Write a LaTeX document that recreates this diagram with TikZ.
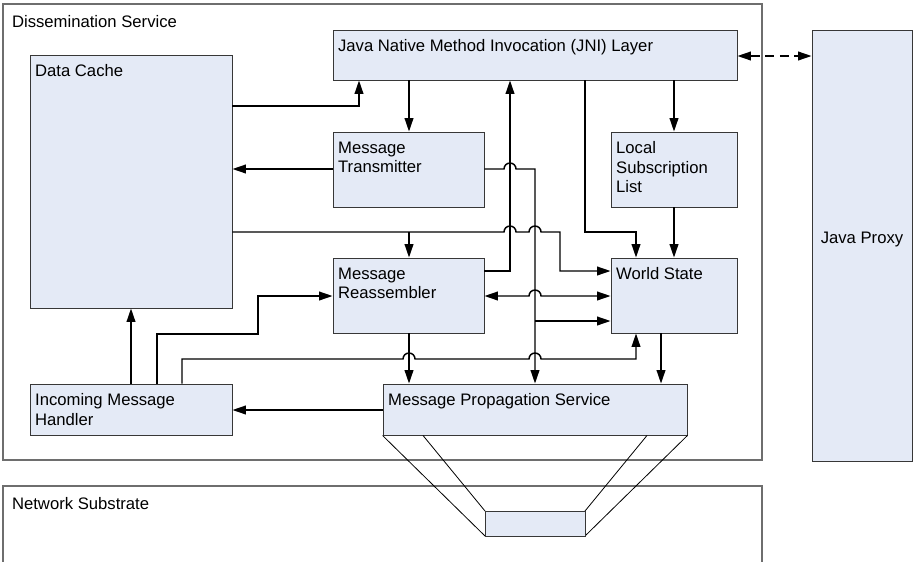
\documentclass[tikz,border=0pt]{standalone}
\usepackage{fontspec}
\setmainfont{Liberation Sans}
\usetikzlibrary{arrows.meta, fit}

\definecolor{blkfill}{RGB}{228,234,246}
\definecolor{blkline}{RGB}{55,55,55}
\definecolor{frameline}{RGB}{110,110,110}

\begin{document}
\begin{tikzpicture}[
        x=0.75pt, y=-0.75pt,
        font=\fontsize{12.5}{14.6}\selectfont,
        >={Triangle[length=10pt, width=6.5pt]},
        blk/.style={draw=blkline, line width=0.7pt, fill=blkfill, inner sep=0pt},
        frame/.style={draw=frameline, line width=0.8pt, fill=white, inner sep=0pt},
        lbl/.style={anchor=north west, align=left, inner xsep=4pt, inner ysep=7.5pt},
        conn/.style={->, line width=1.1pt},
        tie/.style={line width=0.6pt}
    ]
        \clip (0,0) rectangle (913,561);

        % Outer frames
        \node[frame, fit={(3,4) (762,460)},
            label={[lbl, xshift=3pt, yshift=-1pt]north west:Dissemination Service}] (dissem) {};
        \node[frame, fit={(3,486) (762,580)},
            label={[lbl, xshift=3pt, yshift=-1pt]north west:Network Substrate}] (netsub) {};
        \node[blk, fit={(812,30) (912,461)}] (proxy) {Java Proxy};

        % Components
        \node[blk, fit={(333,30) (737,80)},
            label={[lbl]north west:Java Native Method Invocation (JNI) Layer}] (jni) {};
        \node[blk, fit={(30,55) (232,308)},
            label={[lbl]north west:Data Cache}] (cache) {};
        \node[blk, fit={(333,132) (484,207)},
            label={[lbl]north west:Message\\Transmitter}] (xmit) {};
        \node[blk, fit={(611,132) (737,207)},
            label={[lbl]north west:Local\\Subscription\\List}] (subs) {};
        \node[blk, fit={(333,258) (484,333)},
            label={[lbl]north west:Message\\Reassembler}] (reasm) {};
        \node[blk, fit={(611,258) (737,333)},
            label={[lbl]north west:World State}] (world) {};
        \node[blk, fit={(30,384) (232,435)},
            label={[lbl]north west:Incoming Message\\Handler}] (inhdl) {};
        \node[blk, fit={(383,384) (687,435)},
            label={[lbl]north west:Message Propagation Service}] (prop) {};

        % Link into the substrate
        \draw[tie] (prop.south west) -- (485,536) coordinate (nb-sw);
        \draw[tie] (423,0 |- prop.south) -- (485,511) coordinate (nb-nw);
        \draw[tie] (647,0 |- prop.south) -- (585,511) coordinate (nb-ne);
        \draw[tie] (prop.south east) -- (585,536) coordinate (nb-se);
        \node[blk, fit={(nb-nw) (nb-se)}] (netbox) {};

        % JNI connections
        \draw[<->, line width=1.1pt, dash pattern=on 7pt off 4pt] (jni.east |- 0,56) -- (proxy.west |- 0,56);
        \draw[conn] (cache.east |- 0,106) -| (359,0 |- jni.south);
        \draw[conn] (409,0 |- jni.south) -- (409,0 |- xmit.north);
        \draw[conn] (674,0 |- jni.south) -- (674,0 |- subs.north);
        \draw[conn] (585,0 |- jni.south) |- (636,232) -- (636,0 |- world.north);
        \draw[conn] (reasm.east |- 0,271) -| (510,0 |- jni.south);

        % Transmitter
        \draw[conn] (xmit.west |- 0,169) -- (cache.east |- 0,169);
        \draw[conn] (xmit.east |- 0,169) -- (504,169)
            arc[start angle=180, end angle=360, radius=6] -| (535,0 |- prop.north);
        \draw[conn] (535,321) -- (world.west |- 0,321);

        % Data cache to reassembler and world state
        \draw[conn] (cache.east |- 0,232) -- (504,232)
            arc[start angle=180, end angle=360, radius=6] -- (529,232)
            arc[start angle=180, end angle=360, radius=6] -- (560,232)
            |- (world.west |- 0,271);
        \draw[conn] (409,232) -- (409,0 |- reasm.north);
        \draw[conn] (674,0 |- subs.south) -- (674,0 |- world.north);

        % Reassembler
        \draw[<->, line width=1.1pt] (reasm.east |- 0,296) -- (529,296)
            arc[start angle=180, end angle=360, radius=6] -- (world.west |- 0,296);
        \draw[conn] (409,0 |- reasm.south) -- (409,0 |- prop.north);

        % Incoming message handler
        \draw[conn] (131,0 |- inhdl.north) -- (131,0 |- cache.south);
        \draw[conn] (157,0 |- inhdl.north) |- (258,334) |- (reasm.west |- 0,296);
        \draw[conn] (182,0 |- inhdl.north) |- (403,359)
            arc[start angle=180, end angle=360, radius=6] -- (529,359)
            arc[start angle=180, end angle=360, radius=6] -| (636,0 |- world.south);

        % Propagation
        \draw[conn] (661,0 |- world.south) -- (661,0 |- prop.north);
        \draw[conn] (prop.west |- 0,410) -- (inhdl.east |- 0,410);
\end{tikzpicture}
\end{document}
